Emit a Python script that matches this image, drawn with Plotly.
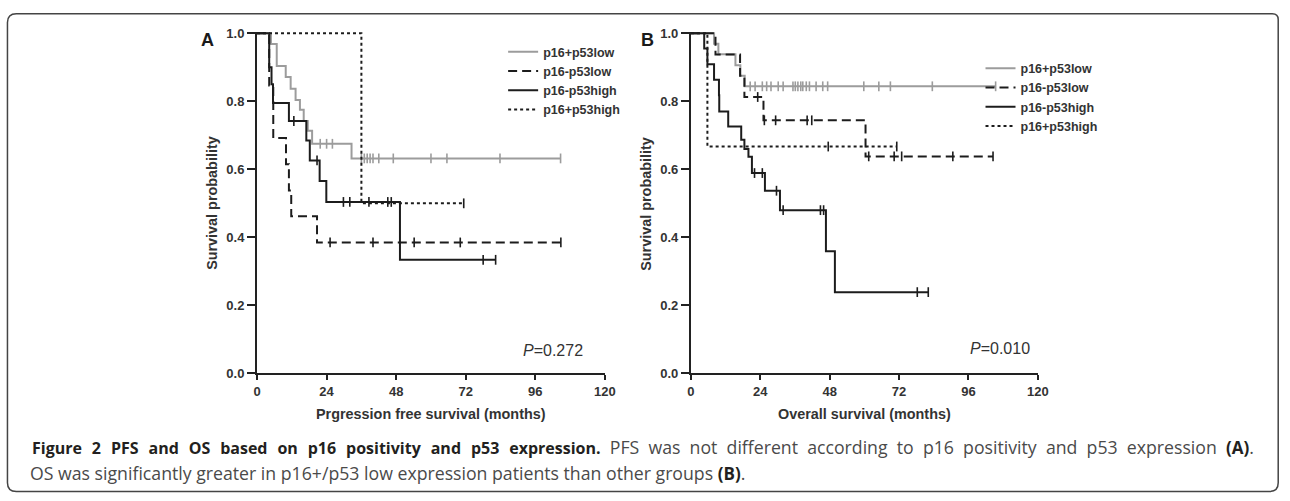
import plotly.graph_objects as go

W, H = 1290, 501

# ---------------- DATA ----------------
series_names = ["p16+p53low", "p16-p53low", "p16-p53high", "p16+p53high"]

# Panel A: progression free survival (event times, survival after each step, censor times)
pfs_low_pos_t = [0, 4.8, 6.8, 9.9, 11.6, 13.3, 14.8, 16.1, 17.5, 19.0, 32.6]
pfs_low_pos_s = [1.0, 0.968, 0.904, 0.871, 0.837, 0.804, 0.775, 0.742, 0.713, 0.675, 0.632]
pfs_low_pos_c = [21.8, 24.0, 26.0, 36.0, 37.0, 38.0, 39.0, 40.0, 42.0, 47.0, 60.0, 65.5, 83.8, 104.7]

pfs_low_neg_t = [0, 4.2, 5.6, 10.0, 11.0, 11.8, 20.7]
pfs_low_neg_s = [1.0, 0.846, 0.692, 0.615, 0.538, 0.462, 0.385]
pfs_low_neg_c = [25.2, 40.0, 54.2, 70.1, 104.8]

pfs_high_neg_t = [0, 4.2, 5.0, 5.5, 11.0, 17.0, 18.2, 21.6, 23.9, 49.3]
pfs_high_neg_s = [1.0, 0.90, 0.85, 0.795, 0.742, 0.685, 0.626, 0.566, 0.504, 0.334]
pfs_high_neg_c = [12.7, 20.7, 29.8, 32.0, 38.6, 45.1, 46.3, 78.0, 82.3]

pfs_high_pos_t = [0, 36.0]
pfs_high_pos_s = [1.0, 0.5]
pfs_high_pos_c = [71.3]

# Panel B: overall survival
os_low_pos_t = [0, 8.0, 9.5, 15.4, 17.1, 18.6]
os_low_pos_s = [1.0, 0.969, 0.938, 0.906, 0.875, 0.844]
os_low_pos_c = [20.5, 22.2, 24.7, 26.2, 27.7, 30.2, 31.9, 35.3, 36.1, 37.0, 38.0, 38.7,
                39.9, 41.0, 43.3, 45.6, 47.3, 59.8, 65.0, 69.0, 83.5, 105.4]

os_low_neg_t = [0, 8.5, 17.0, 18.5, 25.1, 60.4]
os_low_neg_s = [1.0, 0.9375, 0.875, 0.8125, 0.744, 0.638]
os_low_neg_c = [23.1, 25.4, 29.3, 40.2, 41.8, 61.5, 70.3, 72.9, 90.6, 104.5]

os_high_neg_t = [0, 4.6, 5.7, 8.0, 9.7, 9.8, 12.9, 17.4, 18.5, 19.9, 21.1, 25.6, 30.8, 46.7, 49.8]
os_high_neg_s = [1.0, 0.955, 0.909, 0.863, 0.818, 0.770, 0.726, 0.687, 0.66, 0.637, 0.589,
                 0.537, 0.48, 0.359, 0.239]
os_high_neg_c = [22.0, 24.7, 29.6, 31.9, 44.8, 45.9, 78.3, 82.1]

os_high_pos_t = [0, 5.7]
os_high_pos_s = [1.0, 0.667]
os_high_pos_c = [47.5, 71.2]

x_ticks = [0, 24, 48, 72, 96, 120]
y_ticks = [0.0, 0.2, 0.4, 0.6, 0.8, 1.0]
y_ticktext = ["0.0", "0.2", "0.4", "0.6", "0.8", "1.0"]

p_values = ["0.272", "0.010"]
x_titles = ["Prgression free survival (months)", "Overall survival (months)"]
panel_labels = ["A", "B"]

# ---------------- STYLES ----------------
styles = [
    dict(color="#9c9c9c", dash="solid"),
    dict(color="#1c1c1c", dash="9px,5px"),
    dict(color="#1c1c1c", dash="solid"),
    dict(color="#1c1c1c", dash="dot"),
]

panels = [
    [(pfs_low_pos_t, pfs_low_pos_s, pfs_low_pos_c),
     (pfs_low_neg_t, pfs_low_neg_s, pfs_low_neg_c),
     (pfs_high_neg_t, pfs_high_neg_s, pfs_high_neg_c),
     (pfs_high_pos_t, pfs_high_pos_s, pfs_high_pos_c)],
    [(os_low_pos_t, os_low_pos_s, os_low_pos_c),
     (os_low_neg_t, os_low_neg_s, os_low_neg_c),
     (os_high_neg_t, os_high_neg_s, os_high_neg_c),
     (os_high_pos_t, os_high_pos_s, os_high_pos_c)],
]


def surv_at(t, s, x):
    v = s[0]
    for ti, si in zip(t, s):
        if ti <= x:
            v = si
    return v


fig = go.Figure()

axis_ids = [("x", "y"), ("x2", "y2")]
legend_ids = ["legend", "legend2"]
for p, data in enumerate(panels):
    xa, ya = axis_ids[p]
    for i, (t, s, c) in enumerate(data):
        end = max(c) if c else t[-1]
        xs = list(t) + [end]
        ys = list(s) + [s[-1]]
        st = styles[i]
        fig.add_trace(go.Scatter(
            x=xs, y=ys, mode="lines", line_shape="hv",
            line=dict(color=st["color"], width=2, dash=st["dash"]),
            name=series_names[i], xaxis=xa, yaxis=ya, legend=legend_ids[p],
            showlegend=True, hoverinfo="skip"))
        fig.add_trace(go.Scatter(
            x=c, y=[surv_at(t, s, cc) for cc in c], mode="markers",
            marker=dict(symbol="line-ns-open", size=7, color=st["color"],
                        line=dict(color=st["color"], width=1.6)),
            xaxis=xa, yaxis=ya, showlegend=False, hoverinfo="skip", cliponaxis=False))


# ---------------- LAYOUT (positions in page pixels) ----------------
def px_x(v):
    return v / W


def px_y(v):
    return 1 - v / H


tickfont = dict(family="Arial, Liberation Sans", size=13, color="#333333", weight="bold")
x_left = [256, 695]
x_right = [608, 1046]
y_bottom = 378
y_top = 28

layout_axes = {}
for p in range(2):
    xk = "xaxis" if p == 0 else "xaxis2"
    yk = "yaxis" if p == 0 else "yaxis2"
    layout_axes[xk] = dict(
        domain=[px_x(x_left[p]), px_x(x_right[p])], range=[0, 120],
        tickvals=x_ticks, ticks="outside", ticklen=5, tickwidth=2, tickcolor="#222",
        showline=True, linewidth=2, linecolor="#222", showgrid=False, zeroline=False,
        tickfont=tickfont, anchor="y" if p == 0 else "y2", fixedrange=True)
    layout_axes[yk] = dict(
        domain=[px_y(y_bottom), px_y(y_top - 1.75)], range=[0, 1.005],
        tickvals=y_ticks, ticktext=y_ticktext, ticks="outside", ticklen=8, tickwidth=2,
        tickcolor="#222", showline=True, linewidth=2, linecolor="#222", showgrid=False,
        zeroline=False, tickfont=tickfont, anchor="x" if p == 0 else "x2", fixedrange=True)

legend_font = dict(family="Arial, Liberation Sans", size=12.5, color="#333333", weight="bold")

annotations = []
title_font = dict(family="Arial, Liberation Sans", size=14.4, color="#333333", weight="bold")
label_x = [206, 651]
for p in range(2):
    annotations.append(dict(
        x=px_x((x_left[p] + x_right[p]) / 2), y=px_y(420), xref="paper", yref="paper",
        text=x_titles[p], showarrow=False, font=title_font, xanchor="center", yanchor="middle"))
    annotations.append(dict(
        x=px_x(x_left[p] - 45), y=px_y(203), xref="paper", yref="paper",
        text="Survival probability", textangle=-90, showarrow=False, font=title_font,
        xanchor="center", yanchor="middle"))
    annotations.append(dict(
        x=px_x(label_x[p]), y=px_y(35), xref="paper", yref="paper",
        text=panel_labels[p], showarrow=False,
        font=dict(family="Arial, Liberation Sans", size=18, color="#1a1a1a", weight="bold"),
        xanchor="center", yanchor="middle"))
pfont = dict(family="Arial, Liberation Sans", size=16, color="#333333")
annotations.append(dict(x=px_x(555), y=px_y(354), xref="paper", yref="paper",
                        text="<i>P</i>=" + p_values[0], showarrow=False, font=pfont,
                        xanchor="center", yanchor="middle"))
annotations.append(dict(x=px_x(1008), y=px_y(352), xref="paper", yref="paper",
                        text="<i>P</i>=" + p_values[1], showarrow=False, font=pfont,
                        xanchor="center", yanchor="middle"))

# caption (first line is justified in the original, so word gaps are widened)
cap_font = dict(family="Open Sans", size=17.7, color="#4a4a4a")
GAP_B = "\u00a0\u00a0\u200a"
GAP_R = "\u00a0\u00a0"
bold1 = "Figure 2 PFS and OS based on p16 positivity and p53 expression."
reg1 = "PFS was not different according to p16 positivity and p53 expression"
BSTY = "color:#231f20;font-size:16px"
KSTY = "color:#231f20;font-size:17px"
line1 = ("<b><span style='" + BSTY + "'>" + bold1.replace(" ", GAP_B) + "</span></b>"
         + GAP_R + reg1.replace(" ", GAP_R) + GAP_R
         + "<b><span style='" + KSTY + "'>(A)</span></b>.")
line2 = ("OS was significantly greater in p16+/p53 low expression patients than other groups "
         "<b><span style='" + KSTY + "'>(B)</span></b>.")
annotations.append(dict(x=px_x(26), y=px_y(454), xref="paper", yref="paper", text=line1,
                        showarrow=False, font=cap_font, xanchor="left", yanchor="middle"))
annotations.append(dict(x=px_x(24), y=px_y(480), xref="paper", yref="paper", text=line2,
                        showarrow=False, font=cap_font, xanchor="left", yanchor="middle"))

# rounded frame around figure and caption
r = 9
xl, xr, yt, yb = 3.5, 1289.2, 8, 499.5
frame = (f"M {px_x(xl)},{px_y(yt + r)} Q {px_x(xl)},{px_y(yt)} {px_x(xl + r)},{px_y(yt)} "
         f"L {px_x(xr - 6)},{px_y(yt)} Q {px_x(xr)},{px_y(yt)} {px_x(xr)},{px_y(yt + 6)} "
         f"L {px_x(xr)},{px_y(yb - r)} Q {px_x(xr)},{px_y(yb)} {px_x(xr - r)},{px_y(yb)} "
         f"L {px_x(xl + r)},{px_y(yb)} Q {px_x(xl)},{px_y(yb)} {px_x(xl)},{px_y(yb - r)} Z")

fig.update_layout(
    width=W, height=H, margin=dict(l=0, r=0, t=0, b=0),
    paper_bgcolor="white", plot_bgcolor="white",
    showlegend=True,
    legend=dict(x=px_x(505), y=px_y(32), xanchor="left", yanchor="top",
                bgcolor="rgba(0,0,0,0)", font=legend_font, itemwidth=30,
                tracegroupgap=0, itemclick=False, itemdoubleclick=False),
    legend2=dict(x=px_x(988), y=px_y(49), xanchor="left", yanchor="top",
                 bgcolor="rgba(0,0,0,0)", font=legend_font, itemwidth=30,
                 tracegroupgap=0, itemclick=False, itemdoubleclick=False),
    annotations=annotations,
    shapes=[dict(type="path", path=frame, xref="paper", yref="paper",
                 line=dict(color="#444", width=1.5), layer="below")],
    **layout_axes,
)

fig.write_html("out.html", config={"displayModeBar": False},
               post_script="document.body.style.margin='0';document.body.style.overflow='hidden';")
